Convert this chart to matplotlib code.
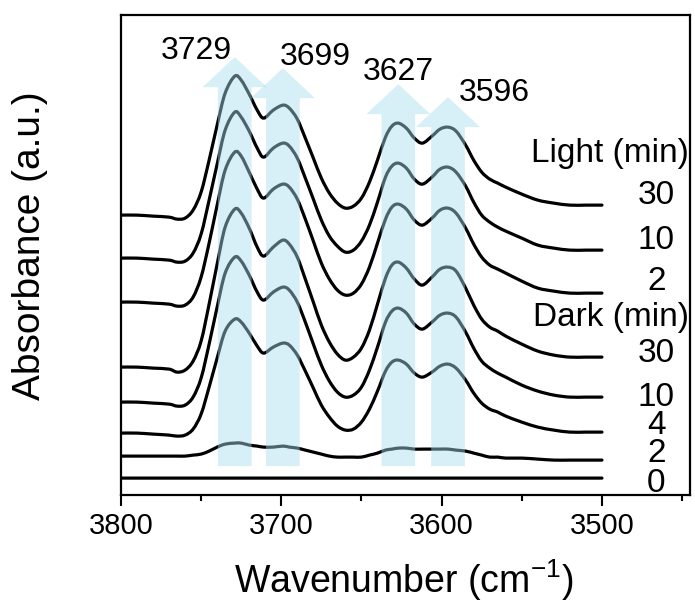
import numpy as np
import matplotlib
matplotlib.use("Agg")
import matplotlib.pyplot as plt
from matplotlib.patches import Polygon, PathPatch
from matplotlib.path import Path

plt.rcParams['font.family'] = ['Liberation Sans', 'DejaVu Sans']
plt.rcParams['mathtext.default'] = 'regular'

# wavenumber grid (cm-1), shared by all spectra
wn = [3800, 3790, 3780, 3770, 3765, 3760, 3755, 3750, 3745, 3740, 3735, 3729, 3725,
      3720, 3715, 3711, 3705, 3699, 3695, 3690, 3685, 3680, 3675, 3670, 3665, 3660,
      3655, 3650, 3645, 3640, 3635, 3631, 3627, 3622, 3617, 3612, 3606, 3601, 3596,
      3591, 3585, 3580, 3575, 3570, 3565, 3560, 3550, 3540, 3530, 3520, 3510, 3500]

# stacked absorbance spectra (a.u., offsets included)
light_30 = [2.80, 2.80, 2.79, 2.78, 2.76, 2.77, 2.85, 3.03, 3.35, 3.70, 4.02, 4.19, 4.15,
            4.01, 3.85, 3.77, 3.85, 3.90, 3.87, 3.76, 3.57, 3.37, 3.17, 3.02, 2.92, 2.87,
            2.89, 2.97, 3.13, 3.35, 3.58, 3.69, 3.72, 3.67, 3.57, 3.52, 3.59, 3.66, 3.68,
            3.64, 3.50, 3.35, 3.23, 3.16, 3.12, 3.08, 3.01, 2.95, 2.92, 2.90, 2.90, 2.90]
light_10 = [2.37, 2.37, 2.36, 2.35, 2.33, 2.34, 2.42, 2.61, 2.95, 3.31, 3.65, 3.83, 3.78,
            3.64, 3.47, 3.38, 3.47, 3.52, 3.49, 3.37, 3.17, 2.96, 2.75, 2.59, 2.49, 2.43,
            2.45, 2.54, 2.70, 2.93, 3.18, 3.29, 3.32, 3.27, 3.16, 3.11, 3.18, 3.26, 3.28,
            3.23, 3.09, 2.93, 2.80, 2.73, 2.68, 2.64, 2.57, 2.50, 2.47, 2.45, 2.45, 2.45]
light_2 = [1.93, 1.93, 1.92, 1.91, 1.89, 1.90, 1.98, 2.18, 2.52, 2.90, 3.25, 3.43, 3.39,
           3.23, 3.06, 2.97, 3.06, 3.11, 3.08, 2.96, 2.76, 2.54, 2.32, 2.16, 2.05, 2.00,
           2.02, 2.11, 2.28, 2.52, 2.76, 2.88, 2.91, 2.86, 2.75, 2.70, 2.77, 2.85, 2.87,
           2.82, 2.67, 2.51, 2.38, 2.30, 2.26, 2.22, 2.14, 2.07, 2.04, 2.02, 2.02, 2.02]
dark_30 = [1.28, 1.28, 1.27, 1.26, 1.23, 1.25, 1.34, 1.54, 1.91, 2.31, 2.68, 2.86, 2.82,
           2.67, 2.48, 2.39, 2.48, 2.55, 2.51, 2.38, 2.16, 1.93, 1.70, 1.53, 1.41, 1.35,
           1.38, 1.47, 1.65, 1.91, 2.17, 2.30, 2.33, 2.27, 2.16, 2.10, 2.18, 2.26, 2.28,
           2.24, 2.07, 1.90, 1.76, 1.68, 1.64, 1.59, 1.51, 1.44, 1.40, 1.38, 1.38, 1.38]
dark_10 = [0.93, 0.93, 0.92, 0.91, 0.89, 0.90, 0.98, 1.17, 1.51, 1.88, 2.22, 2.38, 2.34,
           2.20, 2.03, 1.95, 2.03, 2.08, 2.05, 1.93, 1.73, 1.51, 1.30, 1.14, 1.03, 0.98,
           1.00, 1.08, 1.25, 1.48, 1.73, 1.84, 1.87, 1.82, 1.71, 1.66, 1.73, 1.80, 1.82,
           1.78, 1.63, 1.47, 1.34, 1.27, 1.22, 1.18, 1.10, 1.04, 1.00, 0.98, 0.98, 0.98]
dark_4 = [0.62, 0.62, 0.61, 0.60, 0.59, 0.60, 0.66, 0.81, 1.08, 1.37, 1.64, 1.76, 1.73,
          1.62, 1.49, 1.42, 1.48, 1.52, 1.50, 1.40, 1.24, 1.07, 0.90, 0.78, 0.69, 0.65,
          0.66, 0.73, 0.86, 1.04, 1.24, 1.33, 1.35, 1.31, 1.22, 1.18, 1.23, 1.29, 1.31,
          1.27, 1.15, 1.02, 0.92, 0.86, 0.83, 0.79, 0.73, 0.68, 0.65, 0.63, 0.63, 0.63]
dark_2 = [0.39, 0.39, 0.39, 0.39, 0.39, 0.39, 0.40, 0.41, 0.44, 0.48, 0.51, 0.52, 0.52,
          0.50, 0.49, 0.48, 0.48, 0.49, 0.48, 0.47, 0.45, 0.43, 0.41, 0.39, 0.38, 0.38,
          0.38, 0.38, 0.40, 0.42, 0.45, 0.46, 0.47, 0.47, 0.46, 0.46, 0.46, 0.46, 0.46,
          0.45, 0.44, 0.42, 0.40, 0.38, 0.38, 0.37, 0.37, 0.36, 0.35, 0.35, 0.35, 0.35]
dark_0 = [0.17] * len(wn)

spectra = [light_30, light_10, light_2, dark_30, dark_10, dark_4, dark_2, dark_0]

# right-hand labels
labels = ["Light (min)", "30", "10", "2", "Dark (min)", "30", "10", "4", "2", "0"]
label_y = [3.42, 3.00, 2.55, 2.14, 1.78, 1.42, 0.98, 0.70, 0.42, 0.12]

# peak arrows and their labels
peaks = [3729, 3699, 3627, 3596]
peak_tip = [4.38, 4.27, 4.11, 3.98]
peak_text_x = [3753, 3679, 3627, 3567]
peak_text_y = [4.44, 4.38, 4.23, 4.02]


def smooth_line(x, y):
    # draw the read points as one smooth bezier path (catmull-rom style)
    pts = np.column_stack([x, y]).astype(float)
    n = len(pts)
    verts = [pts[0]]
    codes = [Path.MOVETO]
    for i in range(n - 1):
        p0 = pts[max(i - 1, 0)]
        p1 = pts[i]
        p2 = pts[i + 1]
        p3 = pts[min(i + 2, n - 1)]
        verts += [p1 + (p2 - p0) / 6, p2 - (p3 - p1) / 6, p2]
        codes += [Path.CURVE4] * 3
    return Path(verts, codes)


fig = plt.figure(figsize=(6.95, 6.06), dpi=100)
ax = fig.add_axes([0.174, 0.183, 0.819, 0.792])

for s in spectra:
    ax.add_patch(PathPatch(smooth_line(wn, s), fill=False, edgecolor='black', lw=2.3,
                           capstyle='round', joinstyle='round', zorder=2))

# broad translucent arrows drawn over the spectra
shaft, head, head_len, base = 10.5, 20, 0.30, 0.29
for p, tip in zip(peaks, peak_tip):
    neck = tip - head_len
    verts = [(p - shaft, base), (p + shaft, base), (p + shaft, neck), (p + head, neck),
             (p, tip), (p - head, neck), (p - shaft, neck)]
    ax.add_patch(Polygon(verts, closed=True, facecolor='#a8dcee', edgecolor='none',
                         alpha=0.45, zorder=3))

for p, tx, ty in zip(peaks, peak_text_x, peak_text_y):
    ax.text(tx, ty, str(p), fontsize=23, ha='center', va='center', zorder=4)

for lab, y in zip(labels, label_y):
    if "min" in lab:
        ax.text(3446, y, lab, fontsize=24, ha='right', va='center')
    else:
        ax.text(3466, y, lab, fontsize=24, ha='center', va='center')

ax.set_xlim(3800, 3445)
ax.set_ylim(0, 4.8)
ax.set_xticks([3800, 3700, 3600, 3500])
ax.set_xticks([3750, 3650, 3550, 3450], minor=True)
ax.set_yticks([])
ax.tick_params(axis='x', which='major', length=8, width=1.5, direction='out', labelsize=21, pad=4)
ax.tick_params(axis='x', which='minor', length=4, width=1.5, direction='out')
for sp in ax.spines.values():
    sp.set_linewidth(1.6)

fig.text(0.581, 0.043, "Wavenumber (cm$^{-1}$)", fontsize=27, ha='center', va='center')
fig.text(0.043, 0.594, "Absorbance (a.u.)", fontsize=28, ha='center', va='center', rotation=90)

fig.savefig("out.png", dpi=100)
